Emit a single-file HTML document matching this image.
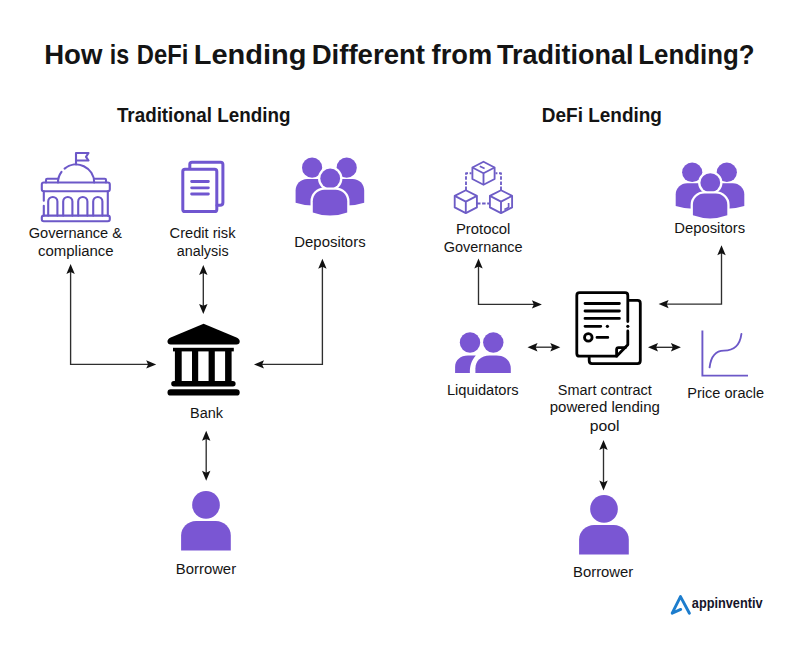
<!DOCTYPE html>
<html><head><meta charset="utf-8">
<style>
html,body{margin:0;padding:0;background:#fff;width:801px;height:651px;overflow:hidden}
svg{display:block}
text{font-family:"Liberation Sans",sans-serif;fill:#141414}
.t{font-size:14.4px}
</style></head>
<body>
<svg width="801" height="651" viewBox="0 0 801 651">
<defs>
<path id="ah" d="M0 0 L-10 -4.2 L-8.1 0 L-10 4.2 Z" fill="#111"/>
</defs>
<rect width="801" height="651" fill="#fff"/>

<text x="44.16" y="63.75" textLength="58.23" lengthAdjust="spacingAndGlyphs" style="font-size:27px;font-weight:bold">How</text>
<text x="109.86" y="63.75" textLength="19.40" lengthAdjust="spacingAndGlyphs" style="font-size:27px;font-weight:bold">is</text>
<text x="136.82" y="63.75" textLength="51.46" lengthAdjust="spacingAndGlyphs" style="font-size:27px;font-weight:bold">DeFi</text>
<text x="193.77" y="63.75" textLength="112.75" lengthAdjust="spacingAndGlyphs" style="font-size:27px;font-weight:bold">Lending</text>
<text x="311.66" y="63.75" textLength="113.35" lengthAdjust="spacingAndGlyphs" style="font-size:27px;font-weight:bold">Different</text>
<text x="431.60" y="63.75" textLength="60.52" lengthAdjust="spacingAndGlyphs" style="font-size:27px;font-weight:bold">from</text>
<text x="497.10" y="63.75" textLength="136.42" lengthAdjust="spacingAndGlyphs" style="font-size:27px;font-weight:bold">Traditional</text>
<text x="638.28" y="63.75" textLength="116.23" lengthAdjust="spacingAndGlyphs" style="font-size:27px;font-weight:bold">Lending?</text>
<text x="116.91" y="121.85" textLength="173.48" lengthAdjust="spacingAndGlyphs" style="font-size:19.5px;font-weight:bold">Traditional Lending</text>
<text x="541.84" y="121.85" textLength="120.12" lengthAdjust="spacingAndGlyphs" style="font-size:19.5px;font-weight:bold">DeFi Lending</text>
<text x="28.66" y="237.6" textLength="93.37" lengthAdjust="spacingAndGlyphs" style="font-size:13.8px;font-weight:normal">Governance &amp;</text>
<text x="38.05" y="255.5" textLength="75.60" lengthAdjust="spacingAndGlyphs" style="font-size:13.8px;font-weight:normal">compliance</text>
<text x="169.56" y="237.7" textLength="65.95" lengthAdjust="spacingAndGlyphs" style="font-size:13.8px;font-weight:normal">Credit risk</text>
<text x="176.78" y="255.7" textLength="51.80" lengthAdjust="spacingAndGlyphs" style="font-size:13.8px;font-weight:normal">analysis</text>
<text x="294.31" y="246.5" textLength="71.30" lengthAdjust="spacingAndGlyphs" style="font-size:13.8px;font-weight:normal">Depositors</text>
<text x="190.05" y="417.5" textLength="33.01" lengthAdjust="spacingAndGlyphs" style="font-size:13.8px;font-weight:normal">Bank</text>
<text x="175.82" y="573.5" textLength="60.29" lengthAdjust="spacingAndGlyphs" style="font-size:13.8px;font-weight:normal">Borrower</text>
<text x="455.92" y="233.5" textLength="54.48" lengthAdjust="spacingAndGlyphs" style="font-size:13.8px;font-weight:normal">Protocol</text>
<text x="443.77" y="251.6" textLength="78.84" lengthAdjust="spacingAndGlyphs" style="font-size:13.8px;font-weight:normal">Governance</text>
<text x="674.32" y="232.5" textLength="70.78" lengthAdjust="spacingAndGlyphs" style="font-size:13.8px;font-weight:normal">Depositors</text>
<text x="446.93" y="394.8" textLength="71.71" lengthAdjust="spacingAndGlyphs" style="font-size:13.8px;font-weight:normal">Liquidators</text>
<text x="557.87" y="394.5" textLength="93.96" lengthAdjust="spacingAndGlyphs" style="font-size:13.8px;font-weight:normal">Smart contract</text>
<text x="549.72" y="412.4" textLength="110.13" lengthAdjust="spacingAndGlyphs" style="font-size:13.8px;font-weight:normal">powered lending</text>
<text x="589.67" y="430.9" textLength="29.74" lengthAdjust="spacingAndGlyphs" style="font-size:13.8px;font-weight:normal">pool</text>
<text x="687.24" y="397.7" textLength="76.86" lengthAdjust="spacingAndGlyphs" style="font-size:13.8px;font-weight:normal">Price oracle</text>
<text x="573.02" y="576.5" textLength="60.29" lengthAdjust="spacingAndGlyphs" style="font-size:13.8px;font-weight:normal">Borrower</text>
<g stroke="#2e2e2e" stroke-width="1.35" fill="none">
<polyline points="70.6,270 70.6,364.4 150,364.4"/>
<line x1="203.3" y1="271" x2="203.3" y2="308"/>
<polyline points="322.4,265 322.4,364.4 260,364.4"/>
<line x1="206.2" y1="437" x2="206.2" y2="475"/>
<polyline points="478.5,264.5 478.5,304.4 535,304.4"/>
<polyline points="721.5,251 721.5,304.1 665,304.1"/>
<line x1="534" y1="347.2" x2="554" y2="347.2"/>
<line x1="654" y1="347.3" x2="675" y2="347.3"/>
<line x1="603.5" y1="446" x2="603.5" y2="484.5"/>
</g>
<use href="#ah" transform="translate(70.6,264) rotate(-90)"/>
<use href="#ah" transform="translate(156.2,364.4) rotate(0)"/>
<use href="#ah" transform="translate(203.3,265) rotate(-90)"/>
<use href="#ah" transform="translate(203.3,313.9) rotate(90)"/>
<use href="#ah" transform="translate(322.4,258.7) rotate(-90)"/>
<use href="#ah" transform="translate(254,364.4) rotate(180)"/>
<use href="#ah" transform="translate(206.2,430.8) rotate(-90)"/>
<use href="#ah" transform="translate(206.2,480.8) rotate(90)"/>
<use href="#ah" transform="translate(478.5,258.5) rotate(-90)"/>
<use href="#ah" transform="translate(541.9,304.4) rotate(0)"/>
<use href="#ah" transform="translate(721.5,245.2) rotate(-90)"/>
<use href="#ah" transform="translate(658.6,304.1) rotate(180)"/>
<use href="#ah" transform="translate(527.5,347.2) rotate(180)"/>
<use href="#ah" transform="translate(560.3,347.2) rotate(0)"/>
<use href="#ah" transform="translate(648,347.3) rotate(180)"/>
<use href="#ah" transform="translate(680.9,347.3) rotate(0)"/>
<use href="#ah" transform="translate(603.5,440) rotate(-90)"/>
<use href="#ah" transform="translate(603.5,490.5) rotate(90)"/>
<g stroke="#6c58c8" stroke-width="2.1" fill="none" stroke-linejoin="round" stroke-linecap="round">
  <path d="M76 164.5 V153 H88.5 L86 156.8 L88.5 160.5 H76"/>
  <path d="M58 182.5 A18.1 18 0 0 1 61.5 171.8"/>
  <path d="M64.6 168.6 A18.1 18 0 0 1 94.2 182.5"/>
  <path d="M46 182.5 V180 Q46 178.8 47.2 178.8 H58 M94.2 178.8 H104.8 Q106 178.8 106 180 V182.5"/>
  <rect x="41.8" y="182.5" width="68" height="8.8" rx="2"/>
  <path d="M43.8 191.3 V200.8 M43.8 205.8 V215.6 M107.8 191.3 V215.6"/>
  <path d="M48.2 215.6 V201.6 A4.6 4.6 0 0 1 57.4 201.6 V215.6"/>
  <path d="M63.2 215.6 V201.6 A4.6 4.6 0 0 1 72.4 201.6 V215.6"/>
  <path d="M78.2 215.6 V201.6 A4.6 4.6 0 0 1 87.4 201.6 V215.6"/>
  <path d="M93.2 215.6 V201.6 A4.6 4.6 0 0 1 102.4 201.6 V215.6"/>
  <rect x="41.8" y="215.6" width="68" height="5.6" rx="2"/>
</g>
<g stroke="#7056d0" stroke-width="3" fill="none" stroke-linejoin="round" stroke-linecap="round">
  <path d="M189.8 168.6 V164.3 Q189.8 162.2 192 162.2 H220.6 Q222.9 162.2 222.9 164.5 V202.5 Q222.9 205.3 220 205.3 H217"/>
  <rect x="182.8" y="169.2" width="34" height="42.4" rx="2.2"/>
  <path d="M191.6 181.5 H208.4 M191.6 187.8 H208.4 M191.6 194 H208.4" stroke-width="2.8"/>
</g>
<g fill="#7a56d3">
<circle cx="312.1" cy="167.7" r="10.1"/>
<circle cx="346.7" cy="167.7" r="10.1"/>
<path d="M295.60 202.70 V190.50 C295.60 184.15 300.75 179.00 307.10 179.00 H318.50 C324.85 179.00 330.00 184.15 330.00 190.50 V202.70 Q312.80 208.30 295.60 202.70 Z"/>
<path d="M329.80 202.70 V190.50 C329.80 184.15 334.95 179.00 341.30 179.00 H352.70 C359.05 179.00 364.20 184.15 364.20 190.50 V202.70 Q347.00 208.30 329.80 202.70 Z"/>
<g stroke="#fff" stroke-width="4.6" paint-order="stroke">
<circle cx="330.2" cy="178.5" r="9.9"/>
<path d="M312.80 212.40 V201.30 C312.80 194.95 317.95 189.80 324.30 189.80 H335.70 C342.05 189.80 347.20 194.95 347.20 201.30 V212.40 Q330.00 218.80 312.80 212.40 Z"/>
</g>
</g>
<g fill="#7a56d3" transform="translate(380.1,162.7) scale(1,0.962) translate(0,-157.7)">
<circle cx="312.1" cy="167.7" r="10.1"/>
<circle cx="346.7" cy="167.7" r="10.1"/>
<path d="M295.60 202.70 V190.50 C295.60 184.15 300.75 179.00 307.10 179.00 H318.50 C324.85 179.00 330.00 184.15 330.00 190.50 V202.70 Q312.80 208.30 295.60 202.70 Z"/>
<path d="M329.80 202.70 V190.50 C329.80 184.15 334.95 179.00 341.30 179.00 H352.70 C359.05 179.00 364.20 184.15 364.20 190.50 V202.70 Q347.00 208.30 329.80 202.70 Z"/>
<g stroke="#fff" stroke-width="4.6" paint-order="stroke">
<circle cx="330.2" cy="178.5" r="9.9"/>
<path d="M312.80 212.40 V201.30 C312.80 194.95 317.95 189.80 324.30 189.80 H335.70 C342.05 189.80 347.20 194.95 347.20 201.30 V212.40 Q330.00 218.80 312.80 212.40 Z"/>
</g>
</g>
<g fill="#000">
  <path d="M203.6 323.8 L236.5 337.6 Q239.7 339 239.7 341.6 Q239.7 344.6 236.5 344.6 H170.7 Q167.5 344.6 167.5 341.6 Q167.5 339 170.7 337.6 Z"/>
  <rect x="173" y="347.8" width="60.8" height="3.6"/>
  <rect x="174.9" y="351" width="6.8" height="30.4"/>
  <rect x="192" y="351" width="6.2" height="30.4"/>
  <rect x="208.6" y="351" width="6.2" height="30.4"/>
  <rect x="225.1" y="351" width="6.5" height="30.4"/>
  <rect x="171.2" y="381" width="64.4" height="5.4" rx="2.7"/>
  <rect x="167.5" y="389.2" width="72.2" height="6.4" rx="3.2"/>
</g>
<g fill="#7a56d3" transform="translate(0,0)"><circle cx="206" cy="504.9" r="13.85"/><path d="M181.10 550.60 V535.60 C181.10 527.60 187.82 521.10 196.10 521.10 H215.80 C224.08 521.10 230.80 527.60 230.80 535.60 V550.60 Q205.95 550.60 181.10 550.60 Z"/></g>
<g fill="#7a56d3" transform="translate(398,4)"><circle cx="206" cy="504.9" r="13.85"/><path d="M181.10 550.60 V535.60 C181.10 527.60 187.82 521.10 196.10 521.10 H215.80 C224.08 521.10 230.80 527.60 230.80 535.60 V550.60 Q205.95 550.60 181.10 550.60 Z"/></g>
<g stroke="#6d5cc6" stroke-width="1.85" fill="none" stroke-linejoin="round">
<path d="M483.5 161.8 L494.6 167.5 V179.0 L483.5 184.70000000000002 L472.4 179.0 V167.5 Z"/><path d="M472.4 167.5 L483.5 173.20000000000002 L494.6 167.5 M483.5 173.20000000000002 V184.70000000000002"/>
<path d="M465.8 190.2 L476.90000000000003 195.89999999999998 V207.39999999999998 L465.8 213.1 L454.7 207.39999999999998 V195.89999999999998 Z"/><path d="M454.7 195.89999999999998 L465.8 201.6 L476.90000000000003 195.89999999999998 M465.8 201.6 V213.1"/>
<path d="M501 190.2 L512.1 195.89999999999998 V207.39999999999998 L501 213.1 L489.9 207.39999999999998 V195.89999999999998 Z"/><path d="M489.9 195.89999999999998 L501 201.6 L512.1 195.89999999999998 M501 201.6 V213.1"/>
<path d="M479.8 166.3 L484.6 168.6" stroke-width="1.7"/>
<path d="M508.6 203 V207.6 L504.4 209.6" stroke-width="1.7"/>
<path d="M466 190 V173.2 H471.5 M501 190 V173.2 H495.5 M477 203.5 H490" stroke-dasharray="3.5 1.6"/>
</g>
<g stroke="#000" stroke-width="2.8" fill="none" stroke-linejoin="round" stroke-linecap="round">
  <path d="M628.9 300.4 H637.5 Q640.3 300.4 640.3 303.2 V360.8 Q640.3 363.6 637.5 363.6 H592 Q589.2 363.6 589.2 360.8 V357.4"/>
  <path d="M627.8 331 V344.8 L616.6 356.2 H579.6 Q576.8 356.2 576.8 353.4 V295.4 Q576.8 292.6 579.6 292.6 H625 Q627.8 292.6 627.8 295.4 V321.5"/>
  <path d="M616.6 356.2 V349.6 Q616.6 347.6 618.6 347.6 H625.5"/>
  <path d="M585 303.5 H619.4 M585 311 H619.4 M585 318.4 H619.4 M585 326.3 H600.8 M597 337.4 H607.8"/>
  <circle cx="588.3" cy="337.4" r="3.8"/>
</g>
<circle cx="607.4" cy="326.3" r="1.6" fill="#000"/>
<circle cx="627.8" cy="326.3" r="1.6" fill="#000"/>
<g fill="#7a56d3">
  <circle cx="470" cy="342.5" r="10.2"/>
  <circle cx="493.3" cy="342.5" r="10.2"/>
  <path d="M455.1 373 V367 C455.1 360 460.5 355.5 468 355.5 H475.8 C471.3 360.5 469.6 366.5 469.9 373 Z"/>
  <path d="M475.4 373 V368.5 C475.4 361 481 355.5 489.5 355.5 H496.5 C505 355.5 510.8 361 510.8 368.5 V373 Z"/>
</g>
<g stroke="#6c58c8" stroke-width="1.9" fill="none">
  <path d="M702.4 330.6 V375.6 H748"/>
  <path d="M709.6 367.3 C711 356 716 350.6 724 350.6 C734 350.6 740 345 741.4 334" stroke-linecap="round"/>
</g>
<polyline points="680.7,609.4 672.2,613.2 680.5,596.6 689.4,613.2" fill="none" stroke="#1d7dcd" stroke-width="2.9" stroke-linejoin="round" stroke-linecap="round"/>
<text x="0" y="0" transform="translate(691.8,608.3) scale(1,1.17)" textLength="70.8" lengthAdjust="spacingAndGlyphs" style="font-size:13px;font-weight:bold;fill:#15152a">appinventiv</text>
</svg>
</body></html>
